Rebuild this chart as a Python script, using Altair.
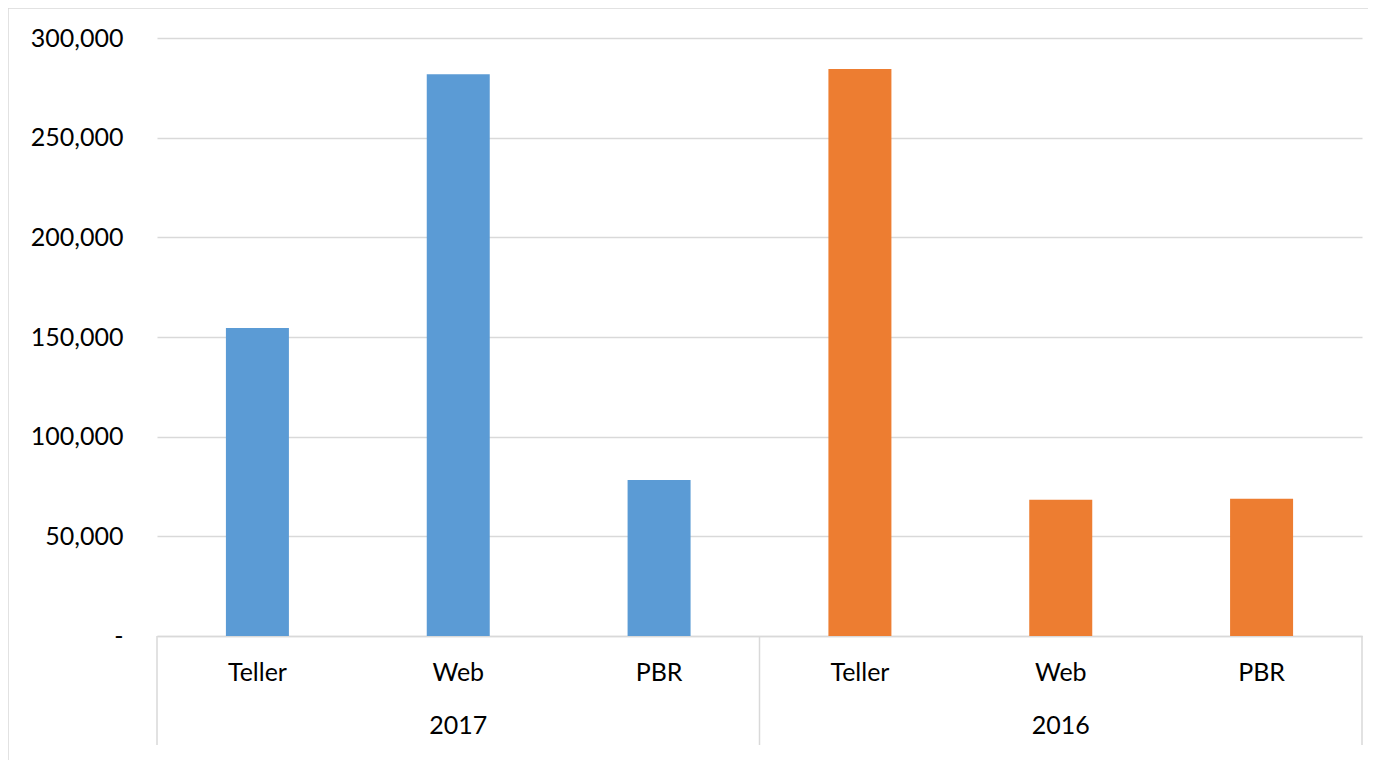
import altair as alt
import pandas as pd

years = ["2017", "2017", "2017", "2016", "2016", "2016"]
channels = ["Teller", "Web", "PBR", "Teller", "Web", "PBR"]
values = [154500, 281800, 78200, 284500, 68300, 68800]
year_colors = {"2017": "#5B9BD5", "2016": "#ED7D31"}
y_ticks = [0, 50000, 100000, 150000, 200000, 250000, 300000]

df = pd.DataFrame({
    "year": years,
    "channel": channels,
    "value": values,
})
df["key"] = df["year"] + "|" + df["channel"]
order = list(df["key"])

W, H = 1205, 598
FONT = "Lato"
GRID = "#d9d9d9"

xscale = alt.Scale(domain=order, paddingInner=0, paddingOuter=0)

bars = alt.Chart(df).mark_bar(size=63).encode(
    x=alt.X("key:N", scale=xscale, sort=order,
            axis=alt.Axis(title=None, labelExpr="split(datum.label, '|')[1]",
                          labelAngle=0, ticks=False, domain=True, domainColor=GRID,
                          domainWidth=1.5, grid=False, labelFont=FONT, labelFontSize=25,
                          labelColor="#000000", labelPadding=24)),
    y=alt.Y("value:Q", scale=alt.Scale(domain=[0, 300000], nice=False),
            axis=alt.Axis(title=None, values=y_ticks,
                          labelExpr="datum.value == 0 ? '-\u00a0\u00a0' : format(datum.value, ',')",
                          ticks=False, domain=False, grid=True, gridColor=GRID,
                          gridWidth=1.5, labelFont=FONT, labelFontSize=25,
                          labelColor="#000000", labelPadding=34)),
    color=alt.Color("year:N", scale=alt.Scale(domain=list(year_colors.keys()),
                                              range=list(year_colors.values())),
                    legend=None),
)

year_df = df[df["channel"] == "Web"]
year_labels = alt.Chart(year_df).mark_text(
    font=FONT, fontSize=25, color="#000000", baseline="middle", align="center"
).encode(
    x=alt.X("key:N", scale=xscale, sort=order),
    y=alt.value(H + 90),
    text="year:N",
)

left_edges = df.drop_duplicates("year")
sep_left = alt.Chart(left_edges).mark_rule(color=GRID, strokeWidth=1.5).encode(
    x=alt.X("key:N", scale=xscale, sort=order, bandPosition=0),
    y=alt.value(H),
    y2=alt.value(H + 109),
)
right_edge = df.tail(1)
sep_right = alt.Chart(right_edge).mark_rule(color=GRID, strokeWidth=1.5).encode(
    x=alt.X("key:N", scale=xscale, sort=order, bandPosition=1),
    y=alt.value(H),
    y2=alt.value(H + 109),
)

border = alt.Chart(df.head(1)).mark_rect(fill=None, stroke=GRID, strokeWidth=1.5).encode(
    x=alt.value(-149), x2=alt.value(W + 40), y=alt.value(-30), y2=alt.value(H + 160)
)

chart = alt.layer(border, bars, year_labels, sep_left, sep_right).properties(
    width=W, height=H,
    autosize=alt.AutoSizeParams(type="none"),
    padding={"left": 149, "top": 30, "right": 6, "bottom": 124},
).configure_view(stroke=None)

chart.save("out.html", embed_options={"renderer": "svg", "actions": False})
